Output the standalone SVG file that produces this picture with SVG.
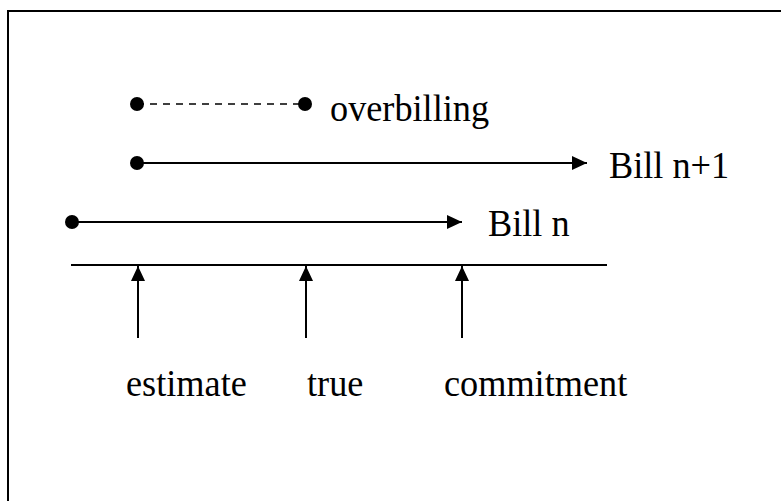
<svg xmlns="http://www.w3.org/2000/svg" width="781" height="501" viewBox="0 0 781 501">
  <defs>
    <marker id="head" viewBox="0 0 15 14" refX="15" refY="7" markerWidth="15" markerHeight="14" markerUnits="userSpaceOnUse" orient="auto">
      <path d="M0,0 L15,7 L0,14 Z" fill="#000"/>
    </marker>
  </defs>
  <style>
    .lbl { font-family: "Liberation Serif", "Times New Roman", serif; font-size: 39px; fill: #000; }
    .ln { stroke: #000; stroke-width: 2; fill: none; }
    .dash { stroke: #000; stroke-width: 1.6; fill: none; stroke-dasharray: 7 6; }
    .dot { fill: #000; }
  </style>
  <rect width="781" height="501" fill="#fff"/>
  <!-- frame -->
  <rect x="8" y="11" width="790" height="510" fill="none" stroke="#000" stroke-width="2"/>

  <g id="connectors">
    <!-- overbilling span -->
    <line class="dash" x1="137" y1="104" x2="305" y2="104"/>
    <!-- bill intervals -->
    <line class="ln" x1="137" y1="163" x2="587" y2="163" marker-end="url(#head)"/>
    <line class="ln" x1="72" y1="222" x2="462" y2="222" marker-end="url(#head)"/>
    <!-- time axis -->
    <line class="ln" x1="71" y1="265" x2="607" y2="265"/>
    <!-- markers on the axis -->
    <line class="ln" x1="138" y1="338" x2="138" y2="266" marker-end="url(#head)"/>
    <line class="ln" x1="306" y1="338" x2="306" y2="266" marker-end="url(#head)"/>
    <line class="ln" x1="462" y1="338" x2="462" y2="266" marker-end="url(#head)"/>
  </g>

  <!-- labels are slightly condensed horizontally -->
  <g id="overbilling">
    <circle class="dot" cx="137" cy="104" r="7"/>
    <circle class="dot" cx="305" cy="104" r="7"/>
    <text class="lbl" transform="translate(330 121) scale(0.93 1)">overbilling</text>
  </g>
  <g id="bill-n1">
    <circle class="dot" cx="137" cy="163" r="7"/>
    <text class="lbl" transform="translate(609 178) scale(0.93 1)">Bill n+1</text>
  </g>
  <g id="bill-n">
    <circle class="dot" cx="72" cy="222" r="7"/>
    <text class="lbl" transform="translate(488 236) scale(0.93 1)">Bill n</text>
  </g>
  <g id="estimate">
    <text class="lbl" transform="translate(126 396) scale(0.93 1)">estimate</text>
  </g>
  <g id="true">
    <text class="lbl" transform="translate(307 396) scale(0.93 1)">true</text>
  </g>
  <g id="commitment">
    <text class="lbl" transform="translate(444 396) scale(0.93 1)">commitment</text>
  </g>
</svg>
